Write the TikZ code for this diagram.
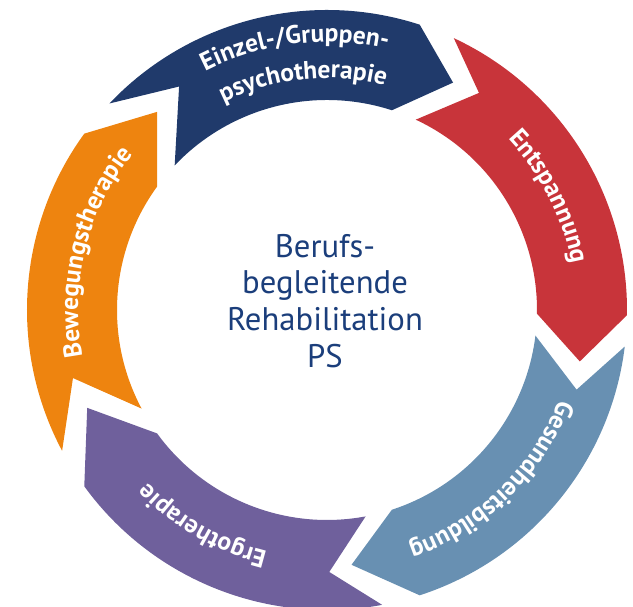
\documentclass[tikz,border=0pt]{standalone}
\usepackage{fontspec}
\setmainfont{PT Sans}
\usetikzlibrary{decorations.text}

\definecolor{bandNavy}{HTML}{203A6B}
\definecolor{bandRed}{HTML}{C8343A}
\definecolor{bandBlue}{HTML}{6890B2}
\definecolor{bandPurple}{HTML}{6F609C}
\definecolor{bandOrange}{HTML}{EE840F}
\definecolor{titleBlue}{HTML}{1B3E7B}

\newcommand{\ringfont}{\fontsize{14.5}{14.5}\selectfont\bfseries}

\begin{document}
\begin{tikzpicture}[x=0.02cm, y=0.02cm,
    ringlabel/.style={decorate, decoration={text along path, text align=center, text color=white, text={|\ringfont|#1}}}]
    % Fix the frame, ring centre at the origin
    \useasboundingbox (-327,-297) rectangle (306,310);

    % Draw the five ring arrows, clockwise from the top
    \fill[bandNavy] (136.5:300) arc[start angle=136.5, end angle=72, radius=300] -- (61:260)
        -- (72:210) arc[start angle=72, end angle=136.5, radius=210] -- (123.5:268) -- cycle;
    \fill[bandRed] (65:300) arc[start angle=65, end angle=-1, radius=300] -- (-11.5:258)
        -- (-1:210) arc[start angle=-1, end angle=65, radius=210] -- (55:265) -- cycle;
    \fill[bandBlue] (-7:300) arc[start angle=-7, end angle=-72, radius=300] -- (-84.5:256)
        -- (-72:210) arc[start angle=-72, end angle=-7, radius=210] -- (-17.7:262) -- cycle;
    \fill[bandPurple] (-79.4:300) arc[start angle=-79.4, end angle=-144, radius=300] -- (-157.8:259)
        -- (-144:210) arc[start angle=-144, end angle=-79.4, radius=210] -- (-89.5:262) -- cycle;
    \fill[bandOrange] (208:300) arc[start angle=208, end angle=144, radius=300] -- (130.6:261)
        -- (144:210) arc[start angle=144, end angle=208, radius=210] -- (195:263) -- cycle;

    % Label each arrow along its middle
    \path[ringlabel={Einzel-/Gruppen-}] (137:268) arc[start angle=137, end angle=57, radius=268];
    \path[ringlabel={psychotherapie}] (136:232) arc[start angle=136, end angle=56, radius=232];
    \path[ringlabel={Entspannung}] (67:249) arc[start angle=67, end angle=-13, radius=249];
    \path[ringlabel={Gesundheitsbildung}] (-6:249) arc[start angle=-6, end angle=-86, radius=249];
    \path[ringlabel={Ergotherapie}] (-80:249) arc[start angle=-80, end angle=-160, radius=249];
    \path[ringlabel={Bewegungstherapie}] (206:249) arc[start angle=206, end angle=126, radius=249];

    % Title in the middle
    \node[align=center, text=titleBlue, font=\fontsize{18.6}{21}\selectfont] (title) at (-2,9)
        {Berufs-\\begleitende\\Rehabilitation\\PS};
\end{tikzpicture}
\end{document}
